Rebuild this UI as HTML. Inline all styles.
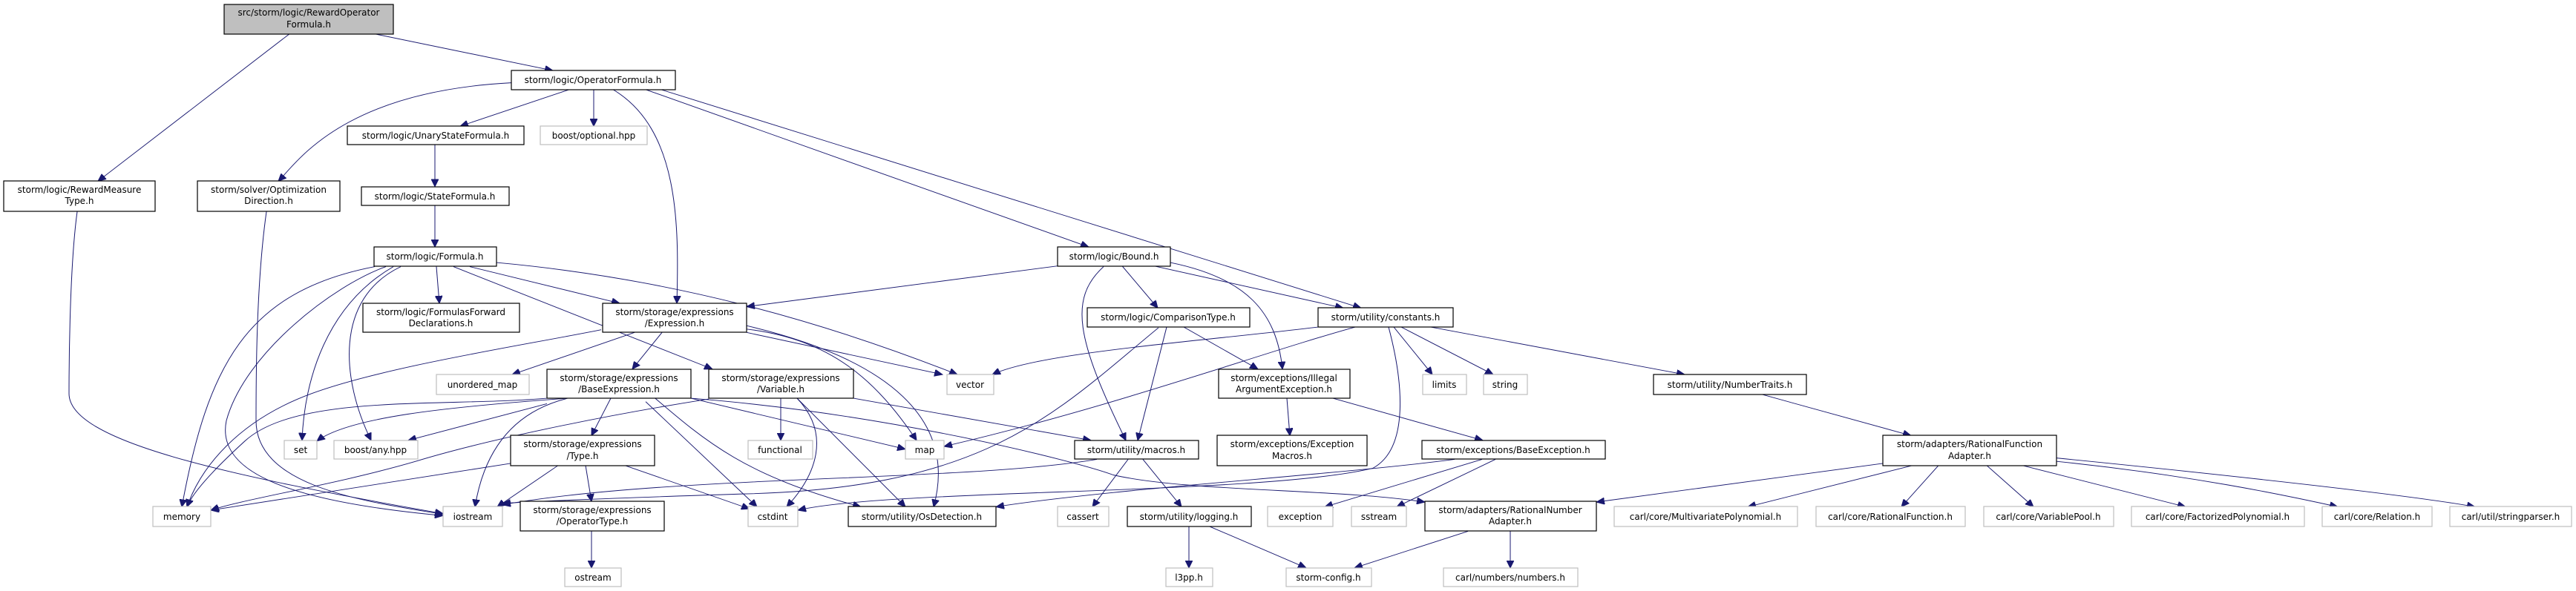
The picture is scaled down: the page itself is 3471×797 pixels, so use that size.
<!DOCTYPE html>
<html><head><meta charset="utf-8"><style>
html,body{margin:0;padding:0;background:#fff;overflow:hidden}
svg{display:block}
text{font-family:"DejaVu Sans","Liberation Sans",sans-serif;font-size:12px;fill:#000;text-anchor:middle}
.b{fill:#fff;stroke:#000;stroke-width:1.2}
.g{fill:#fff;stroke:#bfbfbf;stroke-width:1.2}
path{fill:none;stroke:#191970;stroke-width:1;marker-end:url(#a)}
</style></head><body>
<svg width="3471" height="797" viewBox="0 0 3471 797" xmlns="http://www.w3.org/2000/svg">
<defs><marker id="a" markerUnits="userSpaceOnUse" markerWidth="12" markerHeight="10" refX="11" refY="5" orient="auto"><polygon points="0,0 11,5 0,10" fill="#191970" stroke="#191970"/></marker></defs>

<g transform="scale(1,0.915)">
<path d="M390,50 L132,267"/>
<path d="M505,50 L745,104"/>
<path d="M689,122 C460,135 400,240 375,267"/>
<path d="M767,132 L620,186"/>
<path d="M800,132 L800,186"/>
<path d="M826,132 C915,190 915,330 912,447"/>
<path d="M870,132 L1467,364"/>
<path d="M870,125 L1834,454"/>
<path d="M586,213 L586,275"/>
<path d="M586,303 L586,364"/>
<path d="M104,312 C93,400 93,560 93,580 C93,650 300,700 597,757"/>
<path d="M359,312 C345,420 345,560 345,620 C345,720 500,740 597,758"/>
<path d="M505,393 C330,430 280,540 245,747"/>
<path d="M520,393 C450,420 330,520 305,620 C290,700 400,740 597,760"/>
<path d="M530,393 C440,450 410,560 407,649"/>
<path d="M540,393 C450,440 460,560 500,649"/>
<path d="M588,393 L592,447"/>
<path d="M633,393 L835,447"/>
<path d="M611,393 L960,544"/>
<path d="M669,387 C900,410 1100,470 1290,552"/>
<path d="M855,490 L690,552"/>
<path d="M810,486 C700,510 520,540 420,580 C320,620 270,690 252,747"/>
<path d="M892,490 L852,544"/>
<path d="M1006,490 L1270,552"/>
<path d="M1006,485 C1120,500 1180,560 1235,649"/>
<path d="M1006,480 C1200,530 1290,620 1258,747"/>
<path d="M1425,392 L1006,452"/>
<path d="M1487,393 C1440,440 1450,500 1517,649"/>
<path d="M1512,392 L1560,454"/>
<path d="M1555,392 L1810,454"/>
<path d="M1577,387 C1680,410 1720,460 1728,544"/>
<path d="M1561,483 C1420,610 1330,720 1000,728 C800,735 700,740 677,742"/>
<path d="M1478,677 C1300,710 900,700 677,744"/>
<path d="M1572,482 L1533,649"/>
<path d="M1595,482 L1695,544"/>
<path d="M1776,482 C1600,505 1400,520 1337,552"/>
<path d="M1826,482 C1700,520 1500,600 1272,658"/>
<path d="M1878,482 L1930,552"/>
<path d="M1888,482 L2012,552"/>
<path d="M1928,482 L2270,552"/>
<path d="M1871,482 C1890,560 1900,660 1850,690 C1700,730 1200,720 1075,752"/>
<path d="M1734,587 L1738,642"/>
<path d="M1796,587 L1998,649"/>
<path d="M1997,677 L1785,747"/>
<path d="M2015,677 L1882,747"/>
<path d="M1960,677 C1800,700 1500,720 1342,747"/>
<path d="M2373,581 L2575,642"/>
<path d="M2537,683 L2151,740"/>
<path d="M2577,686 L2355,747"/>
<path d="M2612,686 L2562,747"/>
<path d="M2677,686 L2740,747"/>
<path d="M2725,686 L2945,747"/>
<path d="M2771,680 C2950,700 3080,730 3150,747"/>
<path d="M2771,675 C3000,700 3250,730 3335,747"/>
<path d="M1978,783 L1825,837"/>
<path d="M2035,783 L2035,837"/>
<path d="M1630,776 L1760,837"/>
<path d="M1602,776 L1602,837"/>
<path d="M1520,677 L1472,747"/>
<path d="M1540,677 L1592,747"/>
<path d="M1052,587 L1052,649"/>
<path d="M1074,587 C1120,640 1100,700 1060,747"/>
<path d="M1074,587 L1220,747"/>
<path d="M1150,587 L1470,649"/>
<path d="M955,588 C800,615 650,650 560,680 C450,715 330,735 284,752"/>
<path d="M737,587 C600,600 400,580 330,650 C280,700 258,730 252,747"/>
<path d="M764,587 C600,600 470,615 427,650"/>
<path d="M737,595 L550,649"/>
<path d="M765,587 C680,610 650,680 640,747"/>
<path d="M823,587 L797,642"/>
<path d="M870,592 L1020,747"/>
<path d="M870,575 C950,650 1000,700 1160,747"/>
<path d="M931,587 L1220,662"/>
<path d="M931,587 C1200,610 1450,680 1500,700 C1600,725 1800,720 1920,740"/>
<path d="M688,683 L284,752"/>
<path d="M752,686 L670,747"/>
<path d="M789,686 L797,739"/>
<path d="M842,686 L1010,750"/>
<path d="M797,783 L797,837"/>
</g>

<rect x="302" y="6" width="228" height="40" fill="#bfbfbf" stroke="#000" stroke-width="1.2"/>
<text x="416" y="21">src/storm/logic/RewardOperator</text><text x="416" y="37">Formula.h</text>

<rect class="b" x="689" y="95" width="221" height="26"/><text x="799" y="112">storm/logic/OperatorFormula.h</text>
<rect class="b" x="468" y="170" width="238" height="25"/><text x="587" y="187">storm/logic/UnaryStateFormula.h</text>
<rect class="g" x="728" y="170" width="144" height="25"/><text x="800" y="187">boost/optional.hpp</text>
<rect class="b" x="5" y="244" width="204" height="41"/><text x="107" y="260">storm/logic/RewardMeasure</text><text x="107" y="275">Type.h</text>
<rect class="b" x="266" y="244" width="192" height="41"/><text x="362" y="260">storm/solver/Optimization</text><text x="362" y="275">Direction.h</text>
<rect class="b" x="487" y="252" width="199" height="25"/><text x="586" y="269">storm/logic/StateFormula.h</text>
<rect class="b" x="504" y="333" width="165" height="26"/><text x="586" y="350">storm/logic/Formula.h</text>
<rect class="b" x="489" y="409" width="211" height="39"/><text x="594" y="425">storm/logic/FormulasForward</text><text x="594" y="440">Declarations.h</text>
<rect class="b" x="812" y="409" width="194" height="39"/><text x="909" y="425">storm/storage/expressions</text><text x="909" y="440">/Expression.h</text>
<rect class="g" x="588" y="505" width="125" height="27"/><text x="650" y="523">unordered_map</text>
<rect class="b" x="737" y="498" width="194" height="39"/><text x="834" y="514">storm/storage/expressions</text><text x="834" y="529">/BaseExpression.h</text>
<rect class="b" x="955" y="498" width="195" height="39"/><text x="1052" y="514">storm/storage/expressions</text><text x="1052" y="529">/Variable.h</text>
<rect class="g" x="1276" y="505" width="63" height="27"/><text x="1307" y="523">vector</text>
<rect class="b" x="688" y="587" width="194" height="41"/><text x="785" y="603">storm/storage/expressions</text><text x="785" y="619">/Type.h</text>
<rect class="g" x="383" y="594" width="44" height="25"/><text x="405" y="611">set</text>
<rect class="g" x="450" y="594" width="113" height="25"/><text x="506" y="611">boost/any.hpp</text>
<rect class="g" x="1008" y="594" width="87" height="25"/><text x="1051" y="611">functional</text>
<rect class="g" x="1220" y="594" width="52" height="25"/><text x="1246" y="611">map</text>
<rect class="b" x="1448" y="594" width="167" height="25"/><text x="1531" y="611">storm/utility/macros.h</text>
<rect class="g" x="206" y="683" width="78" height="27"/><text x="245" y="701">memory</text>
<rect class="g" x="597" y="683" width="80" height="27"/><text x="637" y="701">iostream</text>
<rect class="b" x="701" y="676" width="194" height="40"/><text x="798" y="692">storm/storage/expressions</text><text x="798" y="707">/OperatorType.h</text>
<rect class="g" x="761" y="766" width="76" height="25"/><text x="799" y="783">ostream</text>
<rect class="g" x="1008" y="683" width="67" height="27"/><text x="1041" y="701">cstdint</text>
<rect class="b" x="1143" y="683" width="199" height="27"/><text x="1242" y="701">storm/utility/OsDetection.h</text>
<rect class="g" x="1425" y="683" width="69" height="27"/><text x="1459" y="701">cassert</text>
<rect class="b" x="1519" y="683" width="167" height="27"/><text x="1602" y="701">storm/utility/logging.h</text>
<rect class="g" x="1571" y="766" width="63" height="25"/><text x="1602" y="783">l3pp.h</text>
<rect class="b" x="1425" y="333" width="152" height="26"/><text x="1501" y="350">storm/logic/Bound.h</text>
<rect class="b" x="1465" y="415" width="219" height="26"/><text x="1574" y="432">storm/logic/ComparisonType.h</text>
<rect class="b" x="1642" y="498" width="177" height="39"/><text x="1730" y="514">storm/exceptions/Illegal</text><text x="1730" y="529">ArgumentException.h</text>
<rect class="b" x="1640" y="587" width="202" height="41"/><text x="1741" y="603">storm/exceptions/Exception</text><text x="1741" y="619">Macros.h</text>
<rect class="g" x="1708" y="683" width="88" height="27"/><text x="1752" y="701">exception</text>
<rect class="b" x="1776" y="415" width="182" height="26"/><text x="1867" y="432">storm/utility/constants.h</text>
<rect class="g" x="1917" y="505" width="59" height="27"/><text x="1946" y="523">limits</text>
<rect class="g" x="1999" y="505" width="59" height="27"/><text x="2028" y="523">string</text>
<rect class="b" x="2228" y="505" width="206" height="27"/><text x="2331" y="523">storm/utility/NumberTraits.h</text>
<rect class="b" x="1916" y="594" width="247" height="25"/><text x="2039" y="611">storm/exceptions/BaseException.h</text>
<rect class="g" x="1821" y="683" width="74" height="27"/><text x="1858" y="701">sstream</text>
<rect class="b" x="1920" y="676" width="231" height="40"/><text x="2035" y="692">storm/adapters/RationalNumber</text><text x="2035" y="707">Adapter.h</text>
<rect class="g" x="1733" y="766" width="115" height="25"/><text x="1790" y="783">storm-config.h</text>
<rect class="g" x="1945" y="766" width="181" height="25"/><text x="2035" y="783">carl/numbers/numbers.h</text>
<rect class="g" x="2175" y="683" width="247" height="27"/><text x="2298" y="701">carl/core/MultivariatePolynomial.h</text>
<rect class="g" x="2447" y="683" width="201" height="27"/><text x="2547" y="701">carl/core/RationalFunction.h</text>
<rect class="b" x="2537" y="587" width="234" height="41"/><text x="2654" y="603">storm/adapters/RationalFunction</text><text x="2654" y="619">Adapter.h</text>
<rect class="g" x="2673" y="683" width="175" height="27"/><text x="2760" y="701">carl/core/VariablePool.h</text>
<rect class="g" x="2872" y="683" width="233" height="27"/><text x="2988" y="701">carl/core/FactorizedPolynomial.h</text>
<rect class="g" x="3129" y="683" width="148" height="27"/><text x="3203" y="701">carl/core/Relation.h</text>
<rect class="g" x="3301" y="683" width="164" height="27"/><text x="3383" y="701">carl/util/stringparser.h</text>
</svg>
</body></html>
